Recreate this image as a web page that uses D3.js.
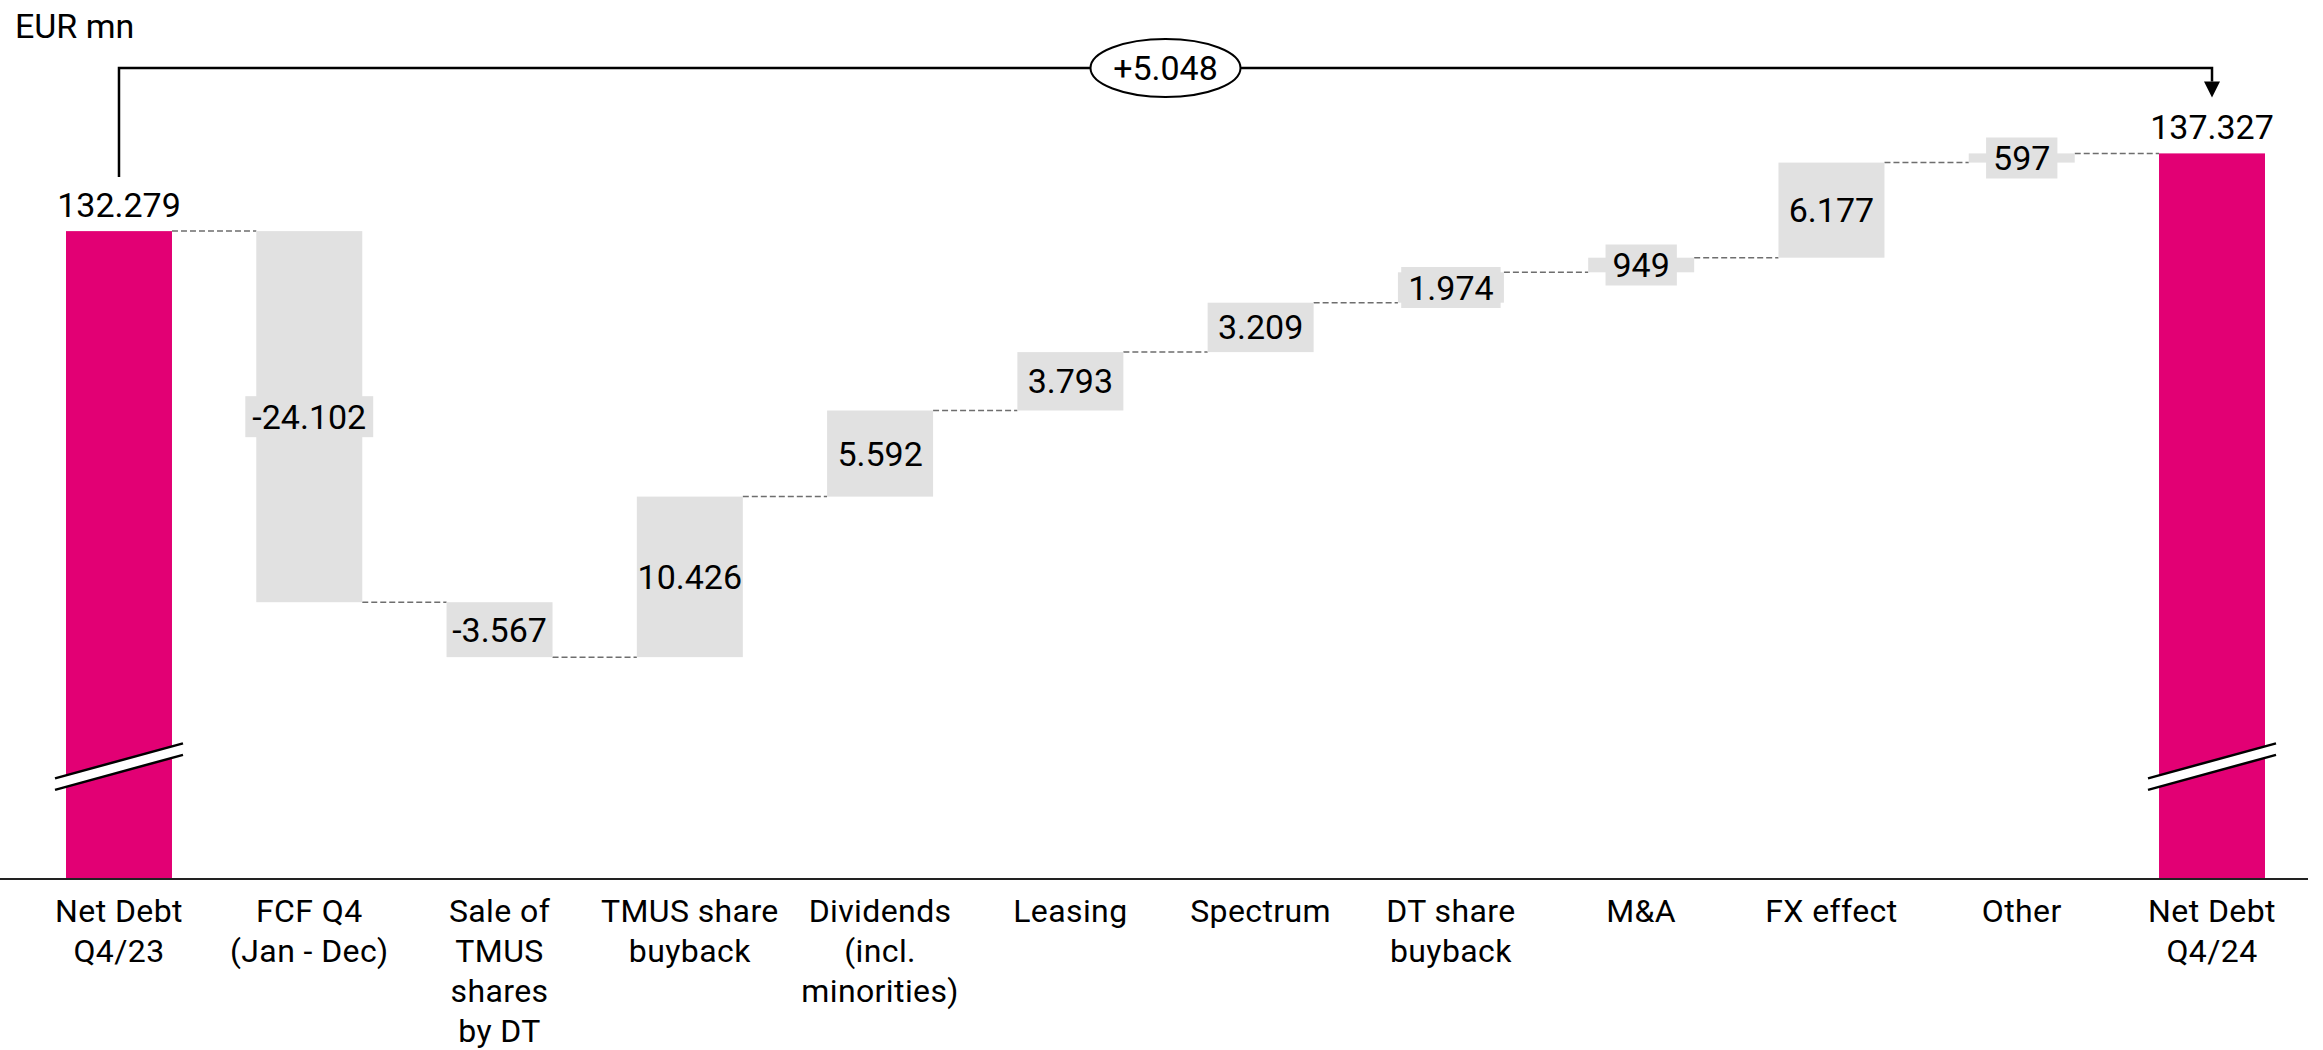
<!DOCTYPE html>
<html>
<head>
<meta charset="utf-8">
<script src="https://cdn.jsdelivr.net/npm/d3@7"></script>
<style>
    body { margin: 0; background: #fff; }
    svg { display: block; font-family: Roboto, "Open Sans", sans-serif; }
</style>
</head>
<body>
<div id="chart"></div>
<script>
// ── Data ──
const categories = [
    ["Net Debt", "Q4/23"],
    ["FCF Q4", "(Jan - Dec)"],
    ["Sale of", "TMUS", "shares", "by DT"],
    ["TMUS share", "buyback"],
    ["Dividends", "(incl.", "minorities)"],
    ["Leasing"],
    ["Spectrum"],
    ["DT share", "buyback"],
    ["M&A"],
    ["FX effect"],
    ["Other"],
    ["Net Debt", "Q4/24"]
];
const startValue = 132279;
const deltas = [-24102, -3567, 10426, 5592, 3793, 3209, 1974, 949, 6177, 597];
const endValue = 137327;

const unitLabel = "EUR mn";
const breakValue = 97500;   // where the axis break is drawn on the total bars

const width = 2323;
const height = 1050;
const baseY = 879;
const pink = "#e20074";
const grey = "#e1e1e1";

const locale = d3.formatLocale({ decimal: ",", thousands: ".", grouping: [3], currency: ["", ""], minus: "-" });
const fmt = locale.format(",");
const fmtSigned = locale.format("+,");

// ── Build waterfall steps ──
let running = startValue;
const steps = [{ label: categories[0], from: 0, to: startValue, total: true, value: startValue }];
deltas.forEach((d, i) => {
    steps.push({ label: categories[i + 1], from: running, to: running + d, total: false, value: d });
    running += d;
});
steps.push({ label: categories[categories.length - 1], from: 0, to: endValue, total: true, value: endValue });

const svg = d3.select("#chart").append("svg")
    .attr("width", width)
    .attr("height", height);

const x = d3.scaleBand()
    .domain(steps.map((d, i) => i))
    .range([66, 2265])
    .paddingInner(0.443)
    .paddingOuter(0);

// broken axis: baseline stands for ~90.200
const y = d3.scaleLinear()
    .domain([90200, endValue])
    .range([baseY, 153.4]);

const bw = x.bandwidth();
const cx = i => x(i) + bw / 2;

// ── Connectors ──
svg.append("g").selectAll("line")
    .data(steps.slice(0, -1))
    .join("line")
    .attr("x1", (d, i) => x(i) + bw)
    .attr("x2", (d, i) => x(i + 1))
    .attr("y1", d => y(d.to))
    .attr("y2", d => y(d.to))
    .attr("stroke", "#6e6e6e")
    .attr("stroke-width", 1.5)
    .attr("stroke-dasharray", "6,3");

// ── Bars ──
svg.append("g").selectAll("rect")
    .data(steps)
    .join("rect")
    .attr("x", (d, i) => x(i))
    .attr("width", bw)
    .attr("y", d => d.total ? y(d.to) : y(Math.max(d.from, d.to)))
    .attr("height", d => d.total ? baseY - y(d.to) : Math.abs(y(d.from) - y(d.to)))
    .attr("fill", d => d.total ? pink : grey);

// ── Axis break marks on total bars ──
const brk = svg.append("g");
steps.forEach((d, i) => {
    if (!d.total) return;
    const x0 = x(i) - 11, x1 = x(i) + bw + 11;
    const yc = y(breakValue);
    const rise = 35, gap = 11.5;
    brk.append("path")
        .attr("d", `M${x0},${yc + rise / 2 - gap / 2}L${x1},${yc - rise / 2 - gap / 2}L${x1},${yc - rise / 2 + gap / 2}L${x0},${yc + rise / 2 + gap / 2}Z`)
        .attr("fill", "#fff");
    [-gap / 2, gap / 2].forEach(o => {
        brk.append("line")
            .attr("x1", x0).attr("y1", yc + rise / 2 + o)
            .attr("x2", x1).attr("y2", yc - rise / 2 + o)
            .attr("stroke", "#000")
            .attr("stroke-width", 2.5);
    });
});

// ── Baseline ──
svg.append("line")
    .attr("x1", 0).attr("x2", 2308)
    .attr("y1", baseY).attr("y2", baseY)
    .attr("stroke", "#222")
    .attr("stroke-width", 2);

// ── Value labels ──
const labels = svg.append("g")
    .attr("font-size", 34)
    .attr("fill", "#000")
    .attr("text-anchor", "middle");

steps.forEach((d, i) => {
    if (d.total) {
        labels.append("text")
            .attr("x", cx(i))
            .attr("y", y(d.to) - 14)
            .text(fmt(d.value));
        return;
    }
    const top = y(Math.max(d.from, d.to));
    const bot = y(Math.min(d.from, d.to));
    const mid = (top + bot) / 2;
    const g = labels.append("g");
    const t = g.append("text")
        .attr("x", cx(i))
        .attr("y", mid + 12)
        .text(fmt(d.value));
    const tw = t.node().getComputedTextLength();
    const boxH = 41;
    if (tw > bw || bot - top < boxH) {
        g.insert("rect", "text")
            .attr("x", cx(i) - tw / 2 - 7)
            .attr("width", tw + 14)
            .attr("y", mid - boxH / 2)
            .attr("height", boxH)
            .attr("fill", grey);
    }
});

// ── Category labels ──
const cat = svg.append("g")
    .attr("font-size", 32)
    .attr("letter-spacing", 0.4)
    .attr("fill", "#000")
    .attr("text-anchor", "middle");

steps.forEach((d, i) => {
    const t = cat.append("text").attr("x", cx(i)).attr("y", baseY + 43);
    d.label.forEach((line, j) => {
        t.append("tspan")
            .attr("x", cx(i))
            .attr("dy", j === 0 ? 0 : 40)
            .text(line);
    });
});

// ── Unit ──
svg.append("text")
    .attr("x", 15)
    .attr("y", 38)
    .attr("font-size", 34)
    .text(unitLabel);

// ── Change bracket ──
const lastI = steps.length - 1;
const bracketY = 68;
const bx0 = cx(0), bx1 = cx(lastI);
svg.append("path")
    .attr("d", `M${bx0},${y(startValue) - 54}V${bracketY}H${bx1}V${y(endValue) - 72}`)
    .attr("fill", "none")
    .attr("stroke", "#000")
    .attr("stroke-width", 2.5);

svg.append("path")
    .attr("d", `M${bx1 - 8},${y(endValue) - 72}L${bx1 + 8},${y(endValue) - 72}L${bx1},${y(endValue) - 56}Z`)
    .attr("fill", "#000");

const mx = (bx0 + bx1) / 2;
svg.append("ellipse")
    .attr("cx", mx).attr("cy", bracketY)
    .attr("rx", 75).attr("ry", 29)
    .attr("fill", "#fff")
    .attr("stroke", "#000")
    .attr("stroke-width", 2);

svg.append("text")
    .attr("x", mx)
    .attr("y", bracketY + 12)
    .attr("text-anchor", "middle")
    .attr("font-size", 34)
    .text(fmtSigned(endValue - startValue));
</script>
</body>
</html>
